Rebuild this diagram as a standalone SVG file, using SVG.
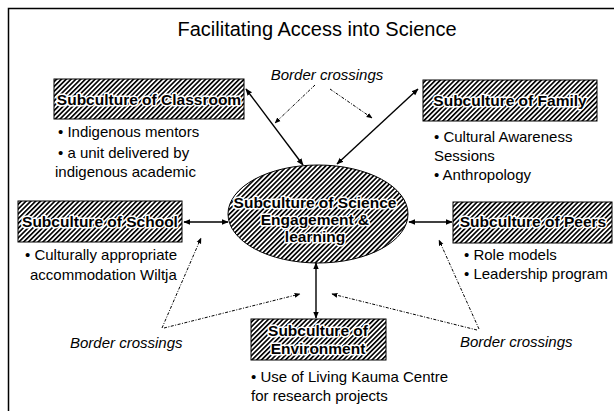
<svg xmlns="http://www.w3.org/2000/svg" width="614" height="411" viewBox="0 0 614 411">
<style>
text{font-family:"Liberation Sans",Arial,sans-serif;fill:#000}
.title{font-size:20px}
.bc{font-size:15px;font-style:italic}
.bul{font-size:15px}
.lbl{font-size:15.5px;font-weight:bold;stroke:#fff;stroke-width:3px;paint-order:stroke;stroke-linejoin:round;text-anchor:middle}
.box{fill:url(#hatch);stroke:#000;stroke-width:1}
.solid{stroke:#000;stroke-width:1.4;fill:none;marker-start:url(#ah);marker-end:url(#ah)}
.dash{stroke:#000;stroke-width:1;fill:none;stroke-dasharray:3 1.5 1 1.5;marker-end:url(#ahs)}
</style>
<defs>
<pattern id="hatch" patternUnits="userSpaceOnUse" width="3.4" height="3.4" patternTransform="rotate(45)">
<rect width="3.4" height="3.4" fill="#fff"/>
<line x1="0.8" y1="0" x2="0.8" y2="3.4" stroke="#000" stroke-width="1.7"/>
</pattern>
<marker id="ah" viewBox="0 0 10 10" refX="9" refY="5" markerWidth="7" markerHeight="7" markerUnits="userSpaceOnUse" orient="auto-start-reverse">
<path d="M0,1 L10,5 L0,9 z" fill="#000"/>
</marker>
<marker id="ahs" viewBox="0 0 10 10" refX="9" refY="5" markerWidth="6" markerHeight="6" markerUnits="userSpaceOnUse" orient="auto">
<path d="M0,1 L10,5 L0,9 z" fill="#000"/>
</marker>
</defs>
<rect width="614" height="411" fill="#fff"/>
<rect x="8.5" y="8.5" width="640" height="440" fill="none" stroke="#000" stroke-width="1.5"/>
<text class="title" x="317" y="36" text-anchor="middle">Facilitating Access into Science</text>

<g id="connectors">
<line class="solid" x1="246" y1="89" x2="303" y2="165"/>
<line class="solid" x1="418" y1="89" x2="337" y2="164"/>
<line class="solid" x1="184" y1="222" x2="228" y2="222"/>
<line class="solid" x1="409" y1="222" x2="452" y2="222"/>
<line class="solid" x1="316" y1="263" x2="316" y2="318"/>
<line class="dash" x1="315" y1="85" x2="275" y2="123"/>
<line class="dash" x1="330" y1="89" x2="372" y2="118"/>
<line class="dash" x1="162" y1="328" x2="201" y2="238"/>
<line class="dash" x1="164" y1="328" x2="300" y2="294"/>
<line class="dash" x1="479" y1="329" x2="439" y2="240"/>
<line class="dash" x1="477" y1="330" x2="332" y2="294"/>
</g>

<g id="border-top"><text class="bc" x="327" y="80" text-anchor="middle">Border crossings</text></g>
<g id="border-left"><text class="bc" x="70" y="348">Border crossings</text></g>
<g id="border-right"><text class="bc" x="460" y="347">Border crossings</text></g>

<g id="classroom">
<rect class="box" x="54" y="79" width="190" height="40"/>
<text class="lbl" x="149" y="105">Subculture of Classroom</text>
<text class="bul" x="58" y="137">• Indigenous mentors</text>
<text class="bul" x="58" y="158">• a unit delivered by</text>
<text class="bul" x="55" y="177">indigenous  academic</text>
</g>

<g id="family">
<rect class="box" x="423" y="80" width="174" height="41"/>
<text class="lbl" x="510" y="106">Subculture of Family</text>
<text class="bul" x="434" y="142">• Cultural Awareness</text>
<text class="bul" x="434" y="161">Sessions</text>
<text class="bul" x="434" y="180">• Anthropology</text>
</g>

<g id="school">
<rect class="box" x="18" y="201" width="164" height="41"/>
<text class="lbl" x="100" y="227">Subculture of School</text>
<text class="bul" x="25" y="260">• Culturally appropriate</text>
<text class="bul" x="30" y="280">accommodation Wiltja</text>
</g>

<g id="science">
<ellipse cx="318" cy="214" rx="90" ry="49" fill="url(#hatch)" stroke="#000" stroke-width="1"/>
<text class="lbl" x="315" y="208">Subculture of  Science</text>
<text class="lbl" x="315" y="225">Engagement &amp;</text>
<text class="lbl" x="315" y="242">learning</text>
</g>

<g id="peers">
<rect class="box" x="453" y="202" width="159" height="41"/>
<text class="lbl" x="533" y="227">Subculture of Peers</text>
<text class="bul" x="464" y="260">• Role models</text>
<text class="bul" x="464" y="279">• Leadership program</text>
</g>

<g id="environment">
<rect class="box" x="251" y="319" width="135" height="41"/>
<text class="lbl" x="318" y="336">Subculture of</text>
<text class="lbl" x="318" y="354">Environment</text>
<text class="bul" x="251" y="382">• Use of Living Kauma Centre</text>
<text class="bul" x="251" y="401">for  research projects</text>
</g>
</svg>
